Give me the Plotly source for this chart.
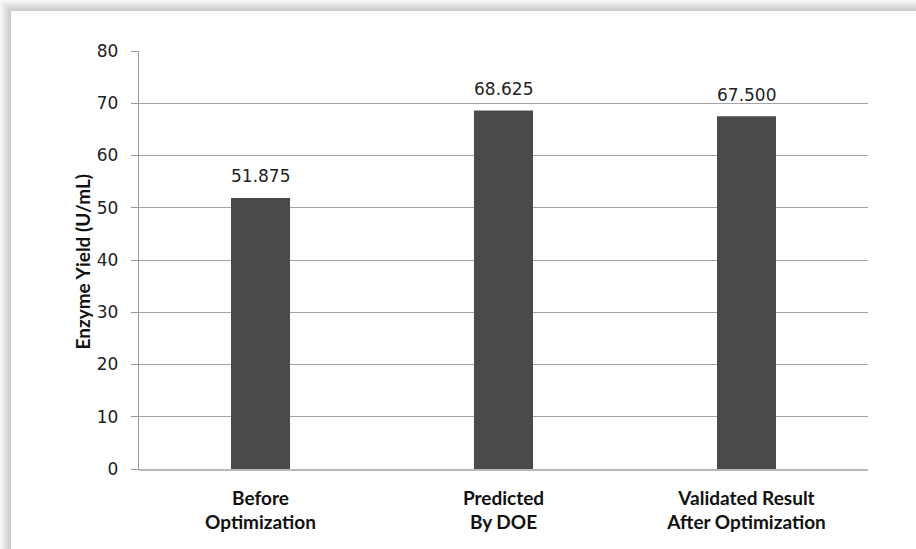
import plotly.graph_objects as go

# Enzyme yield before / after DOE optimization
categories = ["Before<br>Optimization", "Predicted<br>By DOE", "Validated Result<br>After Optimization"]
yield_values = [51.875, 68.625, 67.500]
value_labels = ["51.875", "68.625", "67.500"]
y_ticks = [0, 10, 20, 30, 40, 50, 60, 70, 80]

W, H = 916, 549
L, R, T, B = 139, 48, 51, 80
pw, ph = W - L - R, H - T - B


def px_x(x):
    return (x - L) / pw


def px_y(y):
    return (H - B - y) / ph


fig = go.Figure()
fig.add_trace(go.Bar(
    x=categories,
    y=yield_values,
    marker=dict(color="#4a4a4a", line=dict(width=0)),
    width=0.243,
    hoverinfo="x+y",
))

# value labels above each bar
for c, v, t in zip(categories, yield_values, value_labels):
    fig.add_annotation(
        x=c, y=v, text=t, showarrow=False, yshift=21.5,
        font=dict(family="DejaVu Sans", size=17, color="#222222"),
    )

# y axis title
fig.add_annotation(
    xref="paper", yref="paper", x=px_x(68), y=px_y(262),
    text="<b>Enzyme Yield (U/mL)</b>", textangle=-90, showarrow=False,
    font=dict(family="Lato", size=19, color="#111111"),
)

# soft card shadow along the top and left edges
shapes = []
shadow_steps = [
    (0, "#f7f7f7"), (1, "#f3f3f3"), (2, "#efefef"), (3, "#ebebeb"),
    (4, "#e6e6e6"), (5, "#e2e2e2"), (6, "#dddddd"), (7, "#d9d9d9"),
    (8, "#d4d4d4"), (9, "#d0d0d0"), (10, "#cccccc"),
]
for i, col in shadow_steps:
    # top strip
    shapes.append(dict(
        type="rect", xref="paper", yref="paper", layer="below",
        x0=px_x(i), x1=px_x(W), y0=px_y(i), y1=px_y(i + 1),
        fillcolor=col, line=dict(width=0),
    ))
    # left strip
    shapes.append(dict(
        type="rect", xref="paper", yref="paper", layer="below",
        x0=px_x(i), x1=px_x(i + 1), y0=px_y(i), y1=px_y(H),
        fillcolor=col, line=dict(width=0),
    ))

fig.update_layout(
    width=W, height=H,
    margin=dict(l=L, r=R, t=T, b=B, pad=0),
    paper_bgcolor="white", plot_bgcolor="white",
    showlegend=False,
    shapes=shapes,
    xaxis=dict(
        showgrid=False, zeroline=False,
        showline=True, linecolor="#b8b8b8", linewidth=1.5,
        ticks="", ticklabelstandoff=11,
        tickfont=dict(family="Lato", size=19, color="#111111", weight="bold"),
    ),
    yaxis=dict(
        range=[0, 80], tickvals=y_ticks,
        showgrid=True, gridcolor="#a4a4a4", gridwidth=1.3,
        zeroline=False,
        showline=True, linecolor="#9a9a9a", linewidth=1.3,
        ticks="outside", ticklen=7, tickcolor="#9a9a9a", tickwidth=1.3,
        ticklabelstandoff=9,
        tickfont=dict(family="DejaVu Sans", size=17, color="#222222"),
    ),
    font=dict(family="DejaVu Sans"),
)

fig.write_html("out.html")
